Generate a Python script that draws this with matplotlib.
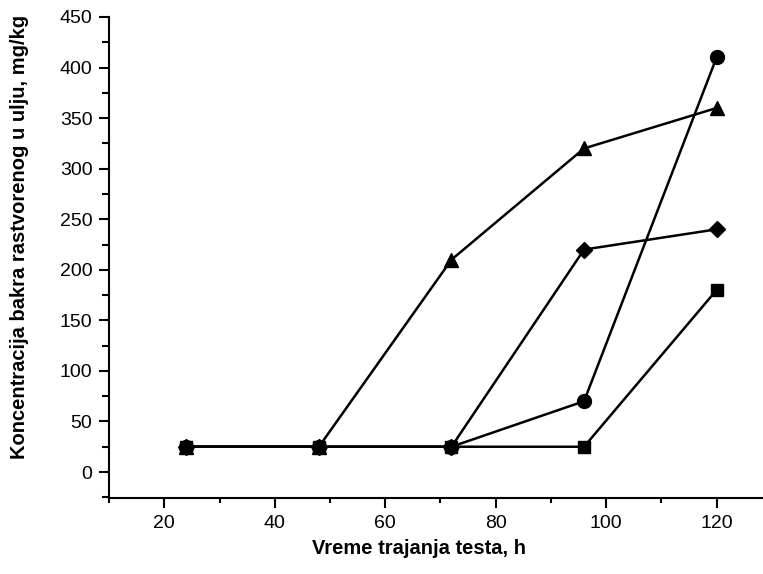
import matplotlib.pyplot as plt
from matplotlib.ticker import MultipleLocator

plt.rcParams['font.family'] = ['Liberation Sans', 'DejaVu Sans']

hours = [24, 48, 72, 96, 120]
circle_vals = [25, 25, 25, 70, 410]
triangle_vals = [25, 25, 210, 320, 360]
diamond_vals = [25, 25, 25, 220, 240]
square_vals = [25, 25, 25, 25, 180]

fig = plt.figure(figsize=(7.63, 5.74), dpi=100)
ax = fig.add_axes([0.1429, 0.1324, 0.8571, 0.838])

# draw each series with its marker
ax.plot(hours, square_vals, color='black', lw=1.8, marker='s', ms=9)
ax.plot(hours, diamond_vals, color='black', lw=1.8, marker='D', ms=8)
ax.plot(hours, circle_vals, color='black', lw=1.8, marker='o', ms=10)
ax.plot(hours, triangle_vals, color='black', lw=1.8, marker='^', ms=10)

ax.set_xlim(10, 128.4)
ax.set_ylim(-25.7, 450)
ax.spines['top'].set_visible(False)
ax.spines['right'].set_visible(False)
ax.spines['left'].set_linewidth(1.5)
ax.spines['bottom'].set_linewidth(1.5)

ax.xaxis.set_major_locator(MultipleLocator(20))
ax.xaxis.set_minor_locator(MultipleLocator(10))
ax.yaxis.set_major_locator(MultipleLocator(50))
ax.yaxis.set_minor_locator(MultipleLocator(25))
ax.set_xticks(range(20, 121, 20))
ax.tick_params(which='major', direction='out', length=7, width=1.5, labelsize=14, colors='black', pad=5)
ax.tick_params(axis='y', which='minor', direction='out', length=5, width=1.5)
ax.tick_params(axis='x', which='minor', direction='out', length=3.5, width=1.5)

ax.set_xlabel('Vreme trajanja testa, h', fontsize=14.5, fontweight='bold')
ax.set_ylabel('Koncentracija bakra rastvorenog u ulju, mg/kg', fontsize=14.5, fontweight='bold')
ax.xaxis.set_label_coords(0.474, -0.085)
ax.yaxis.set_label_coords(-0.122, 0.543)

fig.savefig('out.png', dpi=100)
